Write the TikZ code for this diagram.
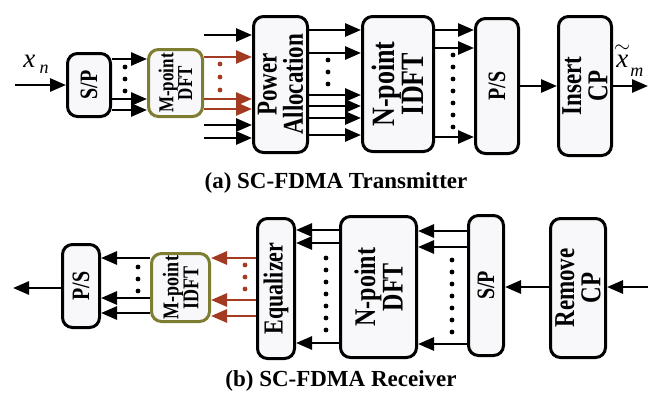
\documentclass[tikz,border=0pt]{standalone}
\usepackage{fontspec}
\setmainfont{Liberation Serif}
\usetikzlibrary{arrows.meta}
\definecolor{sigred}{HTML}{A33B22}
\definecolor{dftline}{HTML}{7E7E32}
\definecolor{blkfill}{HTML}{F8F8FB}
\tikzset{
  blk/.style={draw,line width=3pt,rounded corners=10pt,fill=blkfill,inner sep=0pt},
  vlab/.style={rotate=90,yscale=1.25,align=center,inner sep=0pt},
  sig/.style={line width=2.8pt,-{Triangle[length=16pt,width=13pt]}},
  rsig/.style={sig,draw=sigred,fill=sigred}
}
\newcommand{\fsz}[2]{\fontsize{#1}{#2}\selectfont}
\newcommand{\dotcol}[3]{%
  \foreach \ty in {#2} {\fill[#3] (#1,\ty) circle (2.4pt);}
}

\begin{document}
\begin{tikzpicture}[x=1pt,y=-1pt]
  \useasboundingbox (0,0) rectangle (653,399);
  % transmitter
  \node[blk,minimum width=43pt,minimum height=63pt] (sp) at (89,85) {};
  \node[blk,draw=dftline,minimum width=54pt,minimum height=67pt] (mdft) at (175.5,83) {};
  \node[blk,minimum width=54pt,minimum height=136pt] (pa) at (280.5,84.5) {};
  \node[blk,minimum width=71pt,minimum height=135pt] (idft) at (398,84) {};
  \node[blk,minimum width=43pt,minimum height=135pt] (ps) at (497,86) {};
  \node[blk,minimum width=53pt,minimum height=139pt] (cp) at (585,86) {};
  \node[vlab,font=\bfseries\fsz{20}{18}] (spt) at (sp) {S/P};
  \node[vlab,font=\bfseries\fsz{17}{15}] (mdftt) at (mdft) {M-point\\DFT};
  \node[vlab,font=\bfseries\fsz{23}{21}] (pat) at (pa) {Power\\Allocation};
  \node[vlab,font=\bfseries\fsz{26}{23}] (idftt) at (idft) {N-point\\IDFT};
  \node[vlab,font=\bfseries\fsz{20}{18}] (pst) at (ps) {P/S};
  \node[vlab,font=\bfseries\fsz{23}{21}] (cpt) at (cp) {Insert\\CP};
  \coordinate (xin) at (15,85);
  \coordinate (xout) at (648,86);
  \draw[sig] (xin) -- (sp.west);
  \foreach \ty in {59,99,110} {\draw[sig] (sp.east |- 0,\ty) -- (mdft.west |- 0,\ty);}
  \foreach \ty in {57,99,109} {\draw[rsig] (mdft.east |- 0,\ty) -- (pa.west |- 0,\ty);}
  \foreach \ty in {35,125,138} {\draw[sig] (mdft.east |- 0,\ty) -- (pa.west |- 0,\ty);}
  \foreach \ty in {30,53,95,106,118,135} {\draw[sig] (pa.east |- 0,\ty) -- (idft.west |- 0,\ty);}
  \foreach \ty in {30,48,137} {\draw[sig] (idft.east |- 0,\ty) -- (ps.west |- 0,\ty);}
  \draw[sig] (ps.east) -- (cp.west);
  \draw[sig] (cp.east) -- (xout);
  \dotcol{125}{67,79,91}{black}
  \dotcol{220}{64,77,90}{sigred}
  \dotcol{328}{60,72,84}{black}
  \dotcol{453}{55,67,79,91,103,115,127}{black}
  \node (xnl) at (36,64) {\fsz{27}{27}\textit{x}\,\raisebox{-6pt}{\fsz{18}{18}\textit{n}}};
  \node[inner sep=0pt,anchor=base west] (xml) at (614,67) {\fsz{27}{27}$\stackrel{\hbox{\fsz{20}{20}$\sim$}}{\hbox{\textit{x}}}$\raisebox{-9pt}{\fsz{18}{18}\textit{m}}};
  \node[font=\bfseries\fsz{23}{26}] (capa) at (336,183) {(a) SC-FDMA Transmitter};
  % receiver
  \node[blk,minimum width=37pt,minimum height=83pt] (ps2) at (81,286) {};
  \node[blk,draw=dftline,minimum width=58pt,minimum height=68pt] (midft) at (180.5,287.5) {};
  \node[blk,minimum width=37pt,minimum height=140pt] (eq) at (276,288.5) {};
  \node[blk,minimum width=76pt,minimum height=141pt] (dft) at (378.5,287) {};
  \node[blk,minimum width=35pt,minimum height=140pt] (sp2) at (486,285.5) {};
  \node[blk,minimum width=55pt,minimum height=139pt] (rcp) at (578,288) {};
  \node[vlab,font=\bfseries\fsz{20}{18}] (ps2t) at (ps2) {P/S};
  \node[vlab,font=\bfseries\fsz{18}{16}] (midftt) at (midft) {M-point\\IDFT};
  \node[vlab,font=\bfseries\fsz{22}{20}] (eqt) at (eq) {Equalizer};
  \node[vlab,font=\bfseries\fsz{24}{22}] (dftt) at (dft) {N-point\\DFT};
  \node[vlab,font=\bfseries\fsz{20}{18}] (sp2t) at (sp2) {S/P};
  \node[vlab,font=\bfseries\fsz{23}{21}] (rcpt) at (rcp) {Remove\\CP};
  \coordinate (rin) at (648,287);
  \coordinate (rout) at (13,288);
  \draw[sig] (rin) -- (rcp.east |- rin);
  \draw[sig] (rcp.west |- 0,287) -- (sp2.east |- 0,287);
  \foreach \ty in {231,247,344} {\draw[sig] (sp2.west |- 0,\ty) -- (dft.east |- 0,\ty);}
  \foreach \ty in {230,243,343} {\draw[sig] (dft.west |- 0,\ty) -- (eq.east |- 0,\ty);}
  \foreach \ty in {258,300,316} {\draw[rsig] (eq.west |- 0,\ty) -- (midft.east |- 0,\ty);}
  \foreach \ty in {258,298,313} {\draw[sig] (midft.west |- 0,\ty) -- (ps2.east |- 0,\ty);}
  \draw[sig] (ps2.west |- rout) -- (rout);
  \dotcol{138}{267,279,291}{black}
  \dotcol{245}{265,277,289}{sigred}
  \dotcol{326}{258,270,282,294,306,318,330}{black}
  \dotcol{452}{260,272,284,296,308,320,332}{black}
  \node[font=\bfseries\fsz{23}{26}] (capb) at (341,381) {(b) SC-FDMA Receiver};
\end{tikzpicture}
\end{document}
